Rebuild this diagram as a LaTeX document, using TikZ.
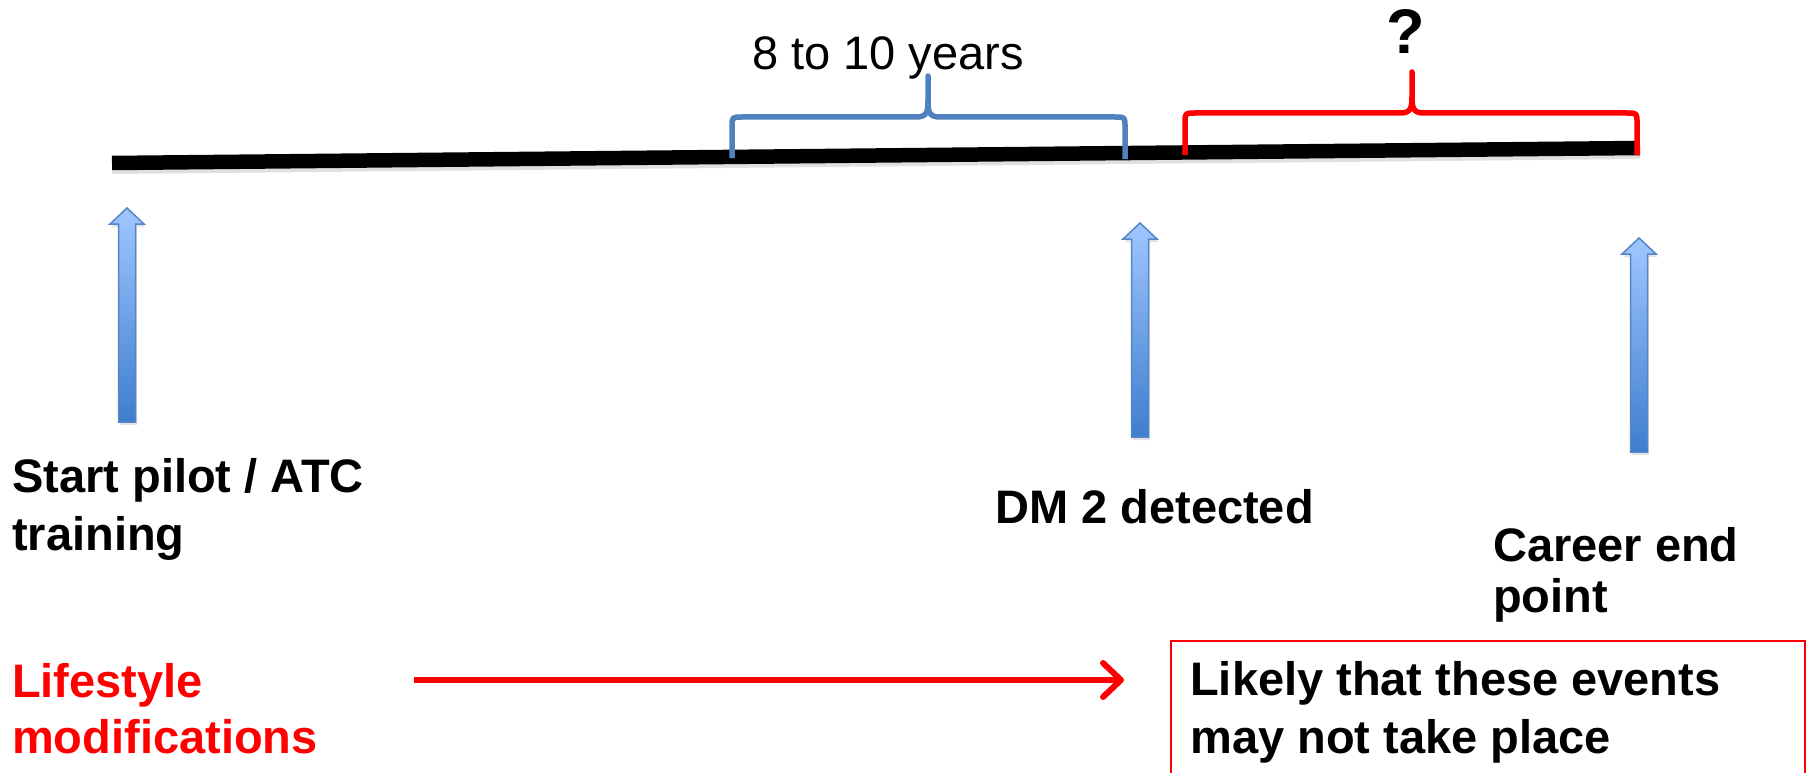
\documentclass[tikz,border=0pt]{standalone}
\usepackage{fontspec}
\setmainfont{Liberation Sans}
\usetikzlibrary{arrows.meta,shadows}
\definecolor{bracebl}{RGB}{79,129,189}
\definecolor{arrtop}{RGB}{160,198,255}
\definecolor{arrbot}{RGB}{62,126,206}
\definecolor{arrline}{RGB}{84,134,200}
\definecolor{pptred}{RGB}{255,0,0}
\newcommand\twoln[1]{\begin{tabular}[t]{@{}l@{}}#1\end{tabular}}
\begin{document}
\begin{tikzpicture}[x=1pt,y=-1pt,
  lbl/.style={inner sep=0, anchor=base west, font=\bfseries\fontsize{47}{58}\selectfont},
  bracepath/.style={line width=5.5, line join=round},
  blockarr/.style={top color=arrtop, bottom color=arrbot, draw=arrline, line width=1.5,
     drop shadow={shadow xshift=1.5pt, shadow yshift=-3pt, opacity=0.22}},
  timeline/.style={line width=14.5, black},
  redarrow/.style={line width=6, pptred, -{Straight Barb[length=18pt, width=34pt, round]}}
]
\useasboundingbox (0,0) rectangle (1814,773);
\clip (0,0) rectangle (1814,773);

% timeline
\coordinate (t0) at (112,163);
\coordinate (t1) at (1640,148);
\draw[line width=6, black, opacity=0.12] ([yshift=-8pt]t0) -- ([yshift=-8pt]t1);
\draw[timeline] (t0) -- (t1);

% blue brace
\draw[bracepath, bracebl] (732,158) -- (732,127) .. controls (732,117) .. (742,117)
  -- (916,117) .. controls (927,117) and (928,112) .. (928,100) -- (928,76)
  -- (928,100) .. controls (928,112) and (929,117) .. (940,117)
  -- (1115,117) .. controls (1125,117) .. (1125,127) -- (1125,159);
\node (years) [inner sep=0, anchor=base west, font=\fontsize{47}{55}\selectfont] at (752,70) {8 to 10 years};

% red brace
\draw[bracepath, pptred] (1185,155) -- (1185,123) .. controls (1185,113) .. (1195,113)
  -- (1400,113) .. controls (1411,113) and (1412,108) .. (1412,96) -- (1412,72)
  -- (1412,96) .. controls (1412,108) and (1413,113) .. (1424,113)
  -- (1627,113) .. controls (1637,113) .. (1637,123) -- (1637,155);
\node (q) [inner sep=0, anchor=base, font=\bfseries\fontsize{63}{70}\selectfont] at (1406,54) {?};

% block arrows
\path[blockarr] (118.5,422) -- (118.5,224) -- (110,224) -- (127,208) -- (144,224) -- (135.5,224) -- (135.5,422) -- cycle;
\path[blockarr] (1131.5,437) -- (1131.5,239) -- (1123,239) -- (1140,223) -- (1157,239) -- (1148.5,239) -- (1148.5,437) -- cycle;
\path[blockarr] (1630.5,452) -- (1630.5,254) -- (1622,254) -- (1639,238) -- (1656,254) -- (1647.5,254) -- (1647.5,452) -- cycle;

% labels
\node (start) [lbl] at (12,492) {\twoln{Start pilot / ATC\\training}};
\node (dm) [lbl] at (995,523) {DM 2 detected};
\node (career) [lbl, font=\bfseries\fontsize{47}{51}\selectfont] at (1493,561) {\twoln{Career end\\point}};
\node (life) [lbl, pptred, font=\bfseries\fontsize{47}{56}\selectfont] at (12,697) {\twoln{Lifestyle\\modifications}};

% red arrow
\coordinate (ra0) at (414,680);
\coordinate (ra1) at (1124,680);
\draw[redarrow] (ra0) -- (ra1);

% box
\node (box) [draw=pptred, line width=2, anchor=north west, minimum width=634, minimum height=200, inner sep=0] at (1170,640) {};
\node (likely) [lbl] at ([shift={(20,55)}]box.north west) {\twoln{Likely that these events\\may not take place}};
\end{tikzpicture}
\end{document}
